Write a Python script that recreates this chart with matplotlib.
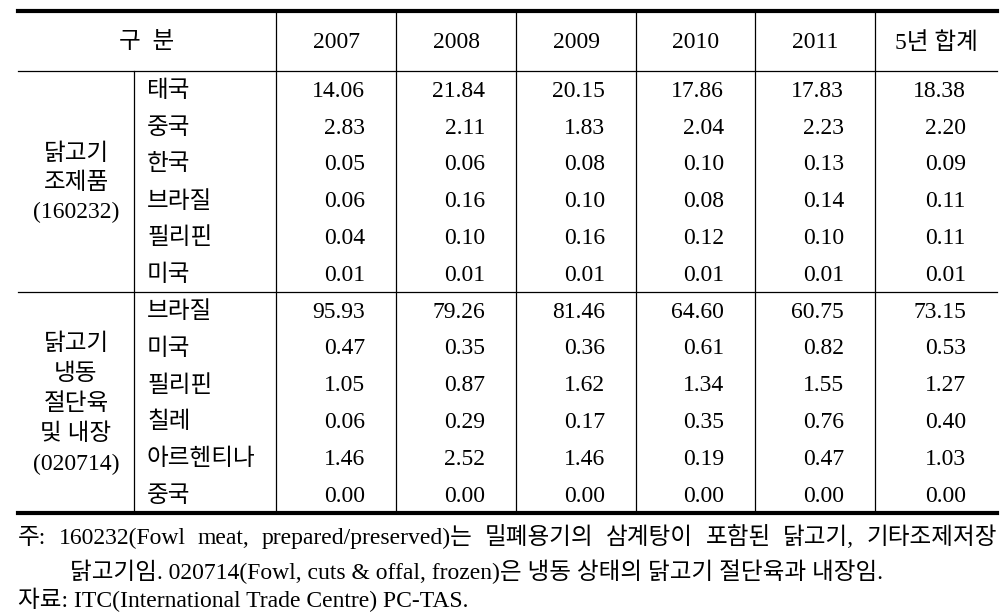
import matplotlib.pyplot as plt

plt.rcParams['font.family'] = ['Liberation Serif', 'Noto Sans CJK KR']

years = ["2007", "2008", "2009", "2010", "2011", "5년 합계"]
group1 = ["닭고기", "조제품", "(160232)"]
group2 = ["닭고기", "냉동", "절단육", "및 내장", "(020714)"]
countries1 = ["태국", "중국", "한국", "브라질", "필리핀", "미국"]
countries2 = ["브라질", "미국", "필리핀", "칠레", "아르헨티나", "중국"]
values1 = [
    [14.06, 21.84, 20.15, 17.86, 17.83, 18.38],
    [2.83, 2.11, 1.83, 2.04, 2.23, 2.20],
    [0.05, 0.06, 0.08, 0.10, 0.13, 0.09],
    [0.06, 0.16, 0.10, 0.08, 0.14, 0.11],
    [0.04, 0.10, 0.16, 0.12, 0.10, 0.11],
    [0.01, 0.01, 0.01, 0.01, 0.01, 0.01],
]
values2 = [
    [95.93, 79.26, 81.46, 64.60, 60.75, 73.15],
    [0.47, 0.35, 0.36, 0.61, 0.82, 0.53],
    [1.05, 0.87, 1.62, 1.34, 1.55, 1.27],
    [0.06, 0.29, 0.17, 0.35, 0.76, 0.40],
    [1.46, 2.52, 1.46, 0.19, 0.47, 1.03],
    [0.00, 0.00, 0.00, 0.00, 0.00, 0.00],
]
note1 = "주: 160232(Fowl meat, prepared/preserved)는 밀폐용기의 삼계탕이 포함된 닭고기, 기타조제저장"
note2 = "닭고기임. 020714(Fowl, cuts & offal, frozen)은 냉동 상태의 닭고기 절단육과 내장임."
source = "자료: ITC(International Trade Centre) PC-TAS."

fig = plt.figure(figsize=(10.07, 6.15), dpi=100)
ax = fig.add_axes([0, 0, 1, 1])
ax.set_xlim(0, 1007)
ax.set_ylim(615, 0)
ax.axis("off")

fs = 17
nfs = 17
left, right = 18, 997
col_x = [276, 396, 516, 636, 755, 875, 997]
sub_x = 134
top, head_bot = 11, 71
row_h = 36.8
mid = head_bot + 6 * row_h
bot = mid + 6 * row_h
dy = 2  # small baseline nudge

# horizontal lines
ax.plot([left, right], [top, top], color="black", lw=3)
ax.plot([left, right], [bot, bot], color="black", lw=3)
ax.plot([left, right], [head_bot, head_bot], color="black", lw=0.9)
ax.plot([left, right], [mid, mid], color="black", lw=0.9)
# vertical lines
for x in col_x[:-1]:
    ax.plot([x, x], [top, bot], color="black", lw=0.9)
ax.plot([sub_x, sub_x], [head_bot, bot], color="black", lw=0.9)

# header
hy = (top + head_bot) / 2 + dy
ax.text((left + col_x[0]) / 2, hy, "구  분", ha="center", va="center", fontsize=fs)
for i, y in enumerate(years):
    ax.text((col_x[i] + col_x[i + 1]) / 2, hy, y, ha="center", va="center", fontsize=fs)

def draw_group(y0, label, countries, values, gap):
    yc0 = y0 + 3 * row_h - gap * (len(label) - 1) / 2 + dy
    for k, line in enumerate(label):
        ax.text((left + sub_x) / 2, yc0 + k * gap, line, ha="center", va="center", fontsize=fs)
    for r, (c, vals) in enumerate(zip(countries, values)):
        yc = y0 + (r + 0.5) * row_h + dy
        ax.text(sub_x + 13, yc, c, ha="left", va="center", fontsize=fs)
        for i, v in enumerate(vals):
            ax.text(col_x[i + 1] - 31, yc, f"{v:.2f}", ha="right", va="center", fontsize=fs)

draw_group(head_bot, group1, countries1, values1, 29)
draw_group(mid, group2, countries2, values2, 30)

# notes, first line justified across the table width
renderer = fig.canvas.get_renderer()
words = note1.split(" ")
arts = [ax.text(0, 544, w, ha="left", va="baseline", fontsize=nfs) for w in words]
widths = [a.get_window_extent(renderer).width for a in arts]
space = (right - left - sum(widths)) / (len(words) - 1)
x = left
for a, w in zip(arts, widths):
    a.set_x(x)
    x += w + space

ax.text(70, 579, note2, ha="left", va="baseline", fontsize=nfs)
ax.text(left, 607, source, ha="left", va="baseline", fontsize=nfs)

fig.savefig("out.png", dpi=100)
